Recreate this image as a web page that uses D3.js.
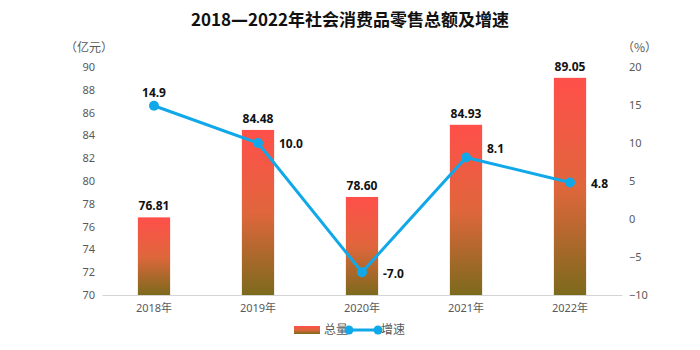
<!DOCTYPE html>
<html lang="zh">
<head>
<meta charset="UTF-8">
<title>社会消费品零售总额及增速</title>
<script src="https://d3js.org/d3.v7.min.js"></script>
<style>
  body { margin: 0; background: #fff; }
  text { font-family: "Noto Sans", "Noto Sans CJK SC", sans-serif; }
</style>
</head>
<body>
<script>
// data
const years = ["2018年", "2019年", "2020年", "2021年", "2022年"];
const totals = [76.81, 84.48, 78.60, 84.93, 89.05];
const growth = [14.9, 10.0, -7.0, 8.1, 4.8];
const leftTicks = [70, 72, 74, 76, 78, 80, 82, 84, 86, 88, 90];
const rightTicks = [-10, -5, 0, 5, 10, 15, 20];

const W = 700, H = 350;
const plot = { left: 102, right: 622, top: 67, bottom: 295 };

const svg = d3.select("body").append("svg")
  .attr("width", W).attr("height", H);

// gradient for bars
const defs = svg.append("defs");
const grad = defs.append("linearGradient")
  .attr("id", "barGrad").attr("x1", 0).attr("y1", 0).attr("x2", 0).attr("y2", 1);
grad.append("stop").attr("offset", "0%").attr("stop-color", "#ff4f4a");
grad.append("stop").attr("offset", "50%").attr("stop-color", "#e0663c");
grad.append("stop").attr("offset", "100%").attr("stop-color", "#7c6a1c");

// title
const title = svg.append("text")
  .attr("x", 350).attr("y", 26)
  .attr("text-anchor", "middle")
  .style("font-family", "'Noto Sans CJK SC', sans-serif")
  .style("font-size", "17px").style("font-weight", "bold")
  .attr("fill", "#111");
title.append("tspan").text("2018");
title.append("tspan").style("font-family", "'DejaVu Sans', sans-serif").text("—");
title.append("tspan").text("2022年社会消费品零售总额及增速");

// unit labels
svg.append("text").attr("x", 65).attr("y", 52)
  .style("font-family", "'Noto Sans CJK SC', sans-serif")
  .style("font-size", "12px").attr("fill", "#595959").text("（亿元）");
svg.append("text").attr("x", 622).attr("y", 52)
  .style("font-family", "'Noto Sans CJK SC', sans-serif")
  .style("font-size", "12px").attr("fill", "#595959").text("（%）");

// scales
const x = d3.scaleBand().domain(years).range([plot.left, plot.right]).paddingInner(0.69).paddingOuter(0.345);
const yL = d3.scaleLinear().domain([70, 90]).range([plot.bottom, plot.top]);
const yR = d3.scaleLinear().domain([-10, 20]).range([plot.bottom, plot.top]);

// left axis
const axL = svg.append("g")
  .attr("transform", "translate(" + (plot.left - 4) + ",0)")
  .call(d3.axisLeft(yL).tickValues(leftTicks).tickSize(0).tickPadding(3));
axL.select(".domain").remove();
axL.selectAll("text").style("font-size", "11px").attr("fill", "#595959");

// right axis
const axR = svg.append("g")
  .attr("transform", "translate(" + (plot.right + 4) + ",0)")
  .call(d3.axisRight(yR).tickValues(rightTicks).tickSize(0).tickPadding(3));
axR.select(".domain").remove();
axR.selectAll("text").style("font-size", "11px").attr("fill", "#595959");

// bottom axis
const axB = svg.append("g")
  .attr("transform", "translate(0," + plot.bottom + ")")
  .call(d3.axisBottom(x).tickSize(0).tickPadding(9));
axB.select(".domain").attr("stroke", "#d4d4d4");
axB.selectAll("text").style("font-size", "11px").attr("fill", "#595959");

// bars
svg.selectAll("rect.bar").data(totals).enter().append("rect")
  .attr("class", "bar")
  .attr("x", (d, i) => x(years[i]))
  .attr("y", d => yL(d))
  .attr("width", x.bandwidth())
  .attr("height", d => plot.bottom - yL(d))
  .attr("fill", "url(#barGrad)");

svg.selectAll("text.barval").data(totals).enter().append("text")
  .attr("class", "barval")
  .attr("x", (d, i) => x(years[i]) + x.bandwidth() / 2)
  .attr("y", d => yL(d) - 7)
  .attr("text-anchor", "middle")
  .style("font-size", "12px").style("font-weight", "bold")
  .attr("fill", "#111")
  .text(d => d.toFixed(2));

// growth line
const cx = (i) => x(years[i]) + x.bandwidth() / 2;
const line = d3.line().x((d, i) => cx(i)).y(d => yR(d));
svg.append("path").datum(growth)
  .attr("d", line)
  .attr("fill", "none")
  .attr("stroke", "#11a8ea")
  .attr("stroke-width", 3);

svg.selectAll("circle.pt").data(growth).enter().append("circle")
  .attr("class", "pt")
  .attr("cx", (d, i) => cx(i))
  .attr("cy", d => yR(d))
  .attr("r", 5)
  .attr("fill", "#11a8ea");

// growth labels: first one above the point, the rest right of the bar
const labelDy = [-9, 5, 6, -4, 5];
svg.selectAll("text.gval").data(growth).enter().append("text")
  .attr("class", "gval")
  .attr("x", (d, i) => i === 0 ? cx(i) : cx(i) + 21)
  .attr("y", (d, i) => yR(d) + labelDy[i])
  .attr("text-anchor", (d, i) => i === 0 ? "middle" : "start")
  .style("font-size", "12px").style("font-weight", "bold")
  .attr("fill", "#111")
  .text(d => d.toFixed(1));

// legend
const lg = svg.append("g").attr("transform", "translate(294,330)");
lg.append("rect").attr("x", 0).attr("y", -4).attr("width", 26).attr("height", 8)
  .attr("fill", "url(#barGrad)");
lg.append("text").attr("x", 30).attr("y", 4)
  .style("font-family", "'Noto Sans CJK SC', sans-serif")
  .style("font-size", "12px").attr("fill", "#595959").text("总量");
lg.append("line").attr("x1", 55).attr("x2", 84).attr("y1", 0).attr("y2", 0)
  .attr("stroke", "#11a8ea").attr("stroke-width", 3);
lg.selectAll("circle").data([55, 84]).enter().append("circle")
  .attr("cx", d => d).attr("cy", 0).attr("r", 4.5).attr("fill", "#11a8ea");
lg.append("text").attr("x", 87).attr("y", 4)
  .style("font-family", "'Noto Sans CJK SC', sans-serif")
  .style("font-size", "12px").attr("fill", "#595959").text("增速");
</script>
</body>
</html>
